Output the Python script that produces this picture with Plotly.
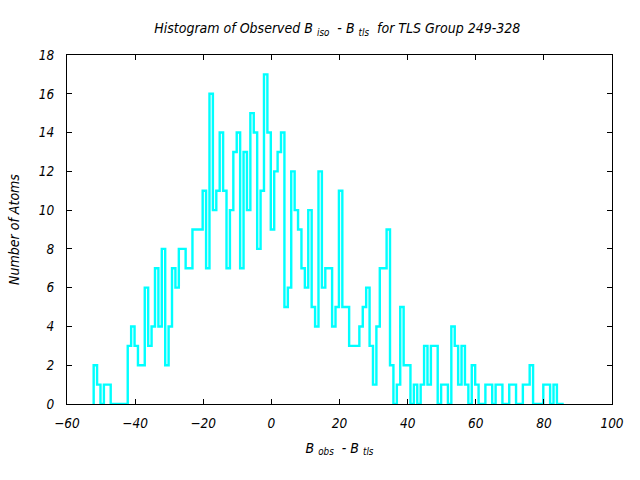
import numpy as np
import plotly.graph_objects as go

# Histogram data (bin counts, 1-unit bins)
bin_start = -52.17
bin_width = 1.0
counts = [
    2, 1, 0, 1, 1, 0, 0, 0, 0, 0,
    3, 4, 3, 2, 2, 6, 3, 4, 7, 4,
    8, 2, 4, 7, 6, 8, 8, 7, 7, 9,
    9, 9, 11, 7, 16, 10, 11, 14, 11, 7,
    10, 13, 14, 7, 13, 10, 15, 14, 8, 11,
    17, 14, 9, 12, 13, 14, 5, 6, 12, 10,
    9, 7, 6, 10, 5, 4, 12, 6, 7, 7,
    4, 5, 11, 5, 5, 3, 3, 3, 4, 5,
    6, 3, 1, 4, 7, 7, 9, 2, 0, 1,
    5, 2, 2, 0, 1, 0, 1, 3, 1, 3,
    3, 0, 1, 1, 0, 4, 3, 1, 3, 1,
    0, 2, 1, 0, 0, 1, 1, 0, 1, 1,
    0, 0, 1, 1, 0, 0, 1, 1, 2, 0,
    0, 0, 1, 1, 0, 1, 0, 0,
]
x_ticks = [-60, -40, -20, 0, 20, 40, 60, 80, 100]
y_ticks = [0, 2, 4, 6, 8, 10, 12, 14, 16, 18]

edges = bin_start + bin_width * np.arange(len(counts) + 1)
xs = [edges[0]] + list(edges[:-1]) + [edges[-1]]
ys = [0] + list(counts) + [0]

fig = go.Figure()
fig.add_trace(go.Scatter(
    x=xs, y=ys, mode="lines",
    line=dict(color="#00FFFF", width=2.4, shape="hv"),
    showlegend=False, hoverinfo="skip",
))

font_family = "DejaVu Sans Condensed, DejaVu Sans, sans-serif"
axis_common = dict(
    showline=True, linecolor="black", linewidth=1, mirror="ticks",
    ticks="inside", ticklen=5, tickcolor="black", tickwidth=1,
    showgrid=False, zeroline=False,
    tickfont=dict(family=font_family, size=13.5, color="black", style="italic"),
)

fig.update_layout(
    width=640, height=480,
    paper_bgcolor="white", plot_bgcolor="white",
    margin=dict(l=67, r=28, t=55, b=76),
    title=dict(
        text="Histogram of Observed B <sub>iso</sub>  - B <sub>tls</sub>  for TLS Group 249-328",
        x=0.527, xanchor="center", y=0.942, yanchor="middle",
        font=dict(family=font_family, size=14, color="black", style="italic"),
    ),
    xaxis=dict(
        range=[-60, 100], tickvals=x_ticks, ticklabelstandoff=7,
        title=dict(text="B <sub>obs</sub>  - B <sub>tls</sub>",
                   font=dict(family=font_family, size=14, color="black", style="italic"),
                   standoff=12),
        **axis_common,
    ),
    yaxis=dict(
        range=[0, 18], tickvals=y_ticks, ticklabelstandoff=9,
        title=dict(text="Number of Atoms",
                   font=dict(family=font_family, size=14, color="black", style="italic"),
                   standoff=15),
        **axis_common,
    ),
)

fig.write_html("out.html")
